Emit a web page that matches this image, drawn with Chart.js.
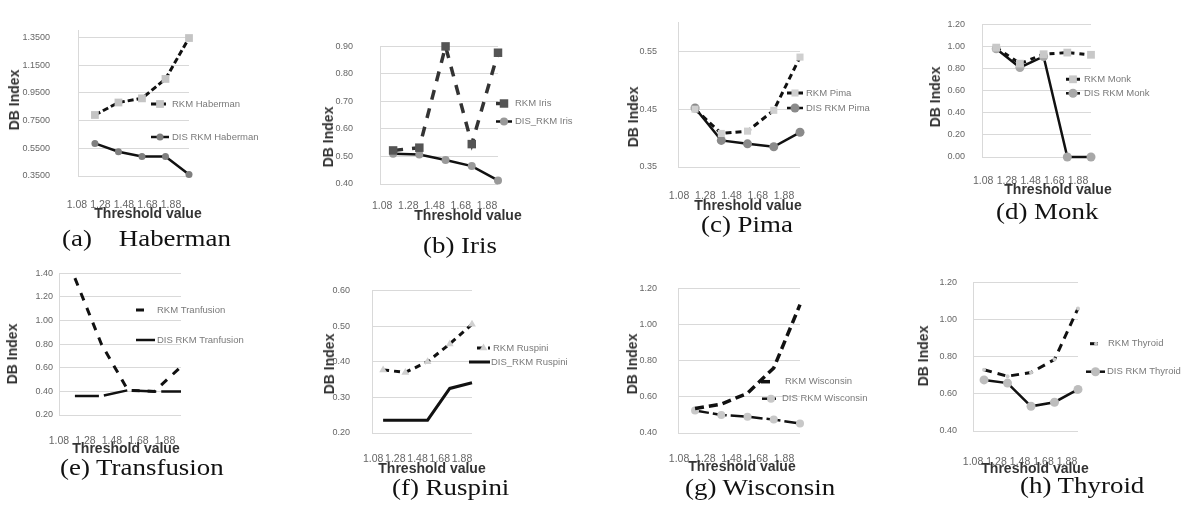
<!DOCTYPE html>
<html>
<head>
<meta charset="utf-8">
<script src="https://cdn.jsdelivr.net/npm/chart.js@4.4.1/dist/chart.umd.min.js"></script>
<style>
body{margin:0;background:#fff;width:1185px;height:508px;position:relative;overflow:hidden;font-family:"Liberation Sans",Arial,sans-serif}
canvas{position:absolute}
.cap{position:absolute;font-family:"Liberation Serif","Times New Roman",serif;font-size:23px;white-space:pre;line-height:23px;color:#111;transform:scaleX(1.17);transform-origin:0 50%}
.xt,.yt{position:absolute;font-weight:bold;font-size:14px;color:#333;white-space:nowrap;line-height:14px}
.xt{transform:translate(-50%,-50%)}
.yt{transform:translate(-50%,-50%) rotate(-90deg)}
</style>
</head>
<body>
<script>
// ---------- data ----------
const thresholds = ["1.08", "1.28", "1.48", "1.68", "1.88"];

const habermanRkm = [0.79, 0.88, 0.91, 1.05, 1.345];
const habermanDis = [0.585, 0.525, 0.49, 0.49, 0.36];
const habermanTicks = [0.35, 0.55, 0.75, 0.95, 1.15, 1.35];

const irisRkm = [0.522, 0.532, 0.90, 0.545, 0.877];
const irisDis = [0.51, 0.507, 0.487, 0.465, 0.413];
const irisTicks = [0.40, 0.50, 0.60, 0.70, 0.80, 0.90];

const pimaRkm = [0.45, 0.408, 0.412, 0.448, 0.54];
const pimaDis = [0.452, 0.396, 0.39, 0.385, 0.41];
const pimaTicks = [0.35, 0.45, 0.55];

const monkRkm = [0.99, 0.845, 0.93, 0.945, 0.925];
const monkDis = [0.98, 0.81, 0.91, 0.00, 0.00];
const monkTicks = [0.00, 0.20, 0.40, 0.60, 0.80, 1.00, 1.20];

const transfusionRkm = [1.36, 0.80, 0.41, 0.40, 0.61];
const transfusionDis = [0.36, 0.36, 0.41, 0.40, 0.40];
const transfusionTicks = [0.20, 0.40, 0.60, 0.80, 1.00, 1.20, 1.40];

const ruspiniRkm = [0.377, 0.37, 0.40, 0.45, 0.505];
const ruspiniDis = [0.236, 0.236, 0.236, 0.325, 0.341];
const ruspiniTicks = [0.20, 0.30, 0.40, 0.50, 0.60];

const wisconsinRkm = [0.535, 0.56, 0.62, 0.76, 1.11];
const wisconsinDis = [0.524, 0.50, 0.49, 0.474, 0.453];
const wisconsinTicks = [0.40, 0.60, 0.80, 1.00, 1.20];

const thyroidRkm = [0.73, 0.695, 0.715, 0.785, 1.06];
const thyroidDis = [0.675, 0.658, 0.533, 0.555, 0.624];
const thyroidTicks = [0.40, 0.60, 0.80, 1.00, 1.20];

// ---------- styles ----------
const FONT = '"Liberation Sans", Arial, sans-serif';

function dashed(dash, width, color, point) {
    return Object.assign({
        borderColor: color || "#111",
        borderWidth: width,
        borderDash: dash,
        pointRadius: 0,
        pointBorderWidth: 0
    }, point || {});
}

function marker(style, radius, fill) {
    return {
        pointStyle: style,
        pointRadius: radius,
        pointBackgroundColor: fill,
        pointBorderColor: fill,
        pointBorderWidth: 0
    };
}

// ---------- legend drawn inside the plot, like the Excel originals ----------
const sideLegend = {
    id: "sideLegend",
    afterDraw(chart, args, opts) {
        const ctx = chart.ctx;
        opts.items.forEach((it, i) => {
            const ds = chart.data.datasets[i];
            const y = it.y - opts.dy;
            const x0 = it.x0 - opts.dx;
            const x1 = it.x1 - opts.dx;
            ctx.save();
            ctx.strokeStyle = ds.borderColor;
            ctx.lineWidth = ds.borderWidth;
            ctx.setLineDash(ds.borderDash || []);
            ctx.beginPath();
            ctx.moveTo(x0, y);
            ctx.lineTo(x1, y);
            ctx.stroke();
            ctx.setLineDash([]);
            if (ds.pointRadius > 0) {
                ctx.fillStyle = ds.pointBackgroundColor;
                ctx.strokeStyle = ds.pointBorderColor;
                Chart.helpers.drawPoint(ctx, {
                    pointStyle: ds.pointStyle,
                    radius: ds.pointRadius,
                    borderWidth: 0,
                    rotation: 0
                }, (x0 + x1) / 2, y);
            }
            ctx.fillStyle = "#7a7a7a";
            ctx.font = "9.5px " + FONT;
            ctx.textBaseline = "middle";
            ctx.textAlign = "left";
            ctx.fillText(ds.label, it.tx - opts.dx, y);
            ctx.restore();
        });
    }
};

function addText(cls, text, x, y) {
    const d = document.createElement("div");
    d.className = cls;
    d.textContent = text;
    d.style.left = x + "px";
    d.style.top = y + "px";
    document.body.appendChild(d);
}

function makePanel(p) {
    const yAxisW = 64;
    const padTop = 10;
    const xAxisH = 50;
    const left = p.plotLeft - yAxisW;
    const top = p.top - padTop;
    const width = p.canvasRight - left;
    const height = p.bottom + xAxisH - top;

    const canvas = document.createElement("canvas");
    canvas.width = width;
    canvas.height = height;
    canvas.style.left = left + "px";
    canvas.style.top = top + "px";
    document.body.appendChild(canvas);

    new Chart(canvas, {
        type: "line",
        data: {
            datasets: p.series.map(s => Object.assign({}, s.style, {
                label: s.label,
                data: s.values.map((v, i) => ({ x: i, y: v })),
                fill: false,
                tension: 0,
                clip: false
            }))
        },
        options: {
            responsive: false,
            animation: false,
            devicePixelRatio: 1,
            layout: { padding: { top: padTop, right: p.canvasRight - p.plotRight, left: 0, bottom: 0 } },
            scales: {
                x: {
                    type: "linear",
                    min: p.xMin,
                    max: 4,
                    afterFit: s => { s.height = xAxisH; },
                    afterBuildTicks: s => { s.ticks = thresholds.map((t, i) => ({ value: i })); },
                    grid: { display: false },
                    border: { display: false },
                    ticks: {
                        autoSkip: false,
                        maxRotation: 0,
                        minRotation: 0,
                        padding: p.xLabelY - p.bottom - 10,
                        labelOffset: p.labelShift,
                        color: "#666",
                        font: { family: FONT, size: 10.5 },
                        callback: v => thresholds[v]
                    }
                },
                y: {
                    min: p.yMin,
                    max: p.yMax,
                    afterFit: s => { s.width = yAxisW; },
                    afterBuildTicks: s => { s.ticks = p.ticks.map(v => ({ value: v })); },
                    grid: { color: "#d9d9d9", drawTicks: false },
                    border: { color: "#d9d9d9" },
                    ticks: {
                        padding: p.plotLeft - p.labelRight,
                        color: "#666",
                        font: { family: FONT, size: 9 },
                        callback: v => v.toFixed(p.decimals)
                    }
                }
            },
            plugins: {
                legend: { display: false },
                tooltip: { enabled: false },
                sideLegend: { items: p.legend, dx: left, dy: top }
            }
        },
        plugins: [sideLegend]
    });

    addText("xt", "Threshold value", p.xTitle[0], p.xTitle[1]);
    addText("yt", "DB Index", p.yTitle[0], p.yTitle[1]);
    addText("cap", p.caption, p.capPos[0], p.capPos[1] - 11.5);
}

// ---------- panels ----------
makePanel({
    plotLeft: 78, plotRight: 189, top: 7, bottom: 176, canvasRight: 300,
    yMin: 0.35, yMax: 1.40, ticks: habermanTicks, decimals: 4,
    xMin: -0.72, labelRight: 50, xLabelY: 201, labelShift: -18,
    series: [
        { label: "RKM Haberman", values: habermanRkm, style: dashed([6, 3], 3, "#111", marker("rect", 5.5, "#c4c4c4")) },
        { label: "DIS RKM Haberman", values: habermanDis, style: dashed([], 2.5, "#111", marker("circle", 3.5, "#7f7f7f")) }
    ],
    legend: [ { x0: 151, x1: 169, tx: 172, y: 104 }, { x0: 151, x1: 169, tx: 172, y: 137 } ],
    xTitle: [148, 213], yTitle: [14, 100],
    caption: "(a)    Haberman", capPos: [62, 238]
});

makePanel({
    plotLeft: 380, plotRight: 498, top: 23.5, bottom: 184, canvasRight: 600,
    yMin: 0.40, yMax: 0.90, ticks: irisTicks, decimals: 2,
    xMin: -0.5, labelRight: 353, xLabelY: 202, labelShift: -11,
    series: [
        { label: "RKM Iris", values: irisRkm, style: dashed([10, 9], 3.5, "#333", marker("rect", 6, "#555")) },
        { label: "DIS_RKM Iris", values: irisDis, style: dashed([], 2.5, "#111", marker("circle", 4, "#999")) }
    ],
    legend: [ { x0: 496, x1: 512, tx: 515, y: 103 }, { x0: 496, x1: 512, tx: 515, y: 121 } ],
    xTitle: [468, 215], yTitle: [328, 137],
    caption: "(b) Iris", capPos: [423, 245]
});

makePanel({
    plotLeft: 678, plotRight: 800, top: 6, bottom: 167.7, canvasRight: 900,
    yMin: 0.35, yMax: 0.60, ticks: pimaTicks, decimals: 2,
    xMin: -0.65, labelRight: 657, xLabelY: 193, labelShift: -16,
    series: [
        { label: "RKM Pima", values: pimaRkm, style: dashed([6, 4], 3, "#111", marker("rect", 5, "#cfcfcf")) },
        { label: "DIS RKM Pima", values: pimaDis, style: dashed([], 2.5, "#111", marker("circle", 4.5, "#8a8a8a")) }
    ],
    legend: [ { x0: 787, x1: 803, tx: 806, y: 93 }, { x0: 787, x1: 803, tx: 806, y: 108 } ],
    xTitle: [748, 205], yTitle: [633, 117],
    caption: "(c) Pima", capPos: [701, 224]
});

makePanel({
    plotLeft: 982, plotRight: 1091, top: 11.7, bottom: 156.7, canvasRight: 1185,
    yMin: 0, yMax: 1.2, ticks: monkTicks, decimals: 2,
    xMin: -0.6, labelRight: 965, xLabelY: 177, labelShift: -13,
    series: [
        { label: "RKM Monk", values: monkRkm, style: dashed([5, 5], 3, "#111", marker("rect", 5.5, "#c8c8c8")) },
        { label: "DIS RKM Monk", values: monkDis, style: dashed([], 2.5, "#111", marker("circle", 4.5, "#a8a8a8")) }
    ],
    legend: [ { x0: 1066, x1: 1080, tx: 1084, y: 79 }, { x0: 1066, x1: 1080, tx: 1084, y: 93 } ],
    xTitle: [1058, 189], yTitle: [935, 97],
    caption: "(d) Monk", capPos: [996, 211]
});

makePanel({
    plotLeft: 59, plotRight: 181, top: 272, bottom: 415.3, canvasRight: 300,
    yMin: 0.2, yMax: 1.4, ticks: transfusionTicks, decimals: 2,
    xMin: -0.6, labelRight: 53, xLabelY: 437, labelShift: -16,
    series: [
        { label: "RKM Tranfusion", values: transfusionRkm, style: dashed([8, 8], 3, "#111") },
        { label: "DIS RKM Tranfusion", values: transfusionDis, style: dashed([24, 5], 2.5, "#111") }
    ],
    legend: [ { x0: 136, x1: 150, tx: 157, y: 310 }, { x0: 136, x1: 155, tx: 157, y: 340 } ],
    xTitle: [126, 448], yTitle: [12, 354],
    caption: "(e) Transfusion", capPos: [60, 467]
});

makePanel({
    plotLeft: 372, plotRight: 472, top: 273, bottom: 433.7, canvasRight: 600,
    yMin: 0.2, yMax: 0.6, ticks: ruspiniTicks, decimals: 2,
    xMin: -0.5, labelRight: 350, xLabelY: 456, labelShift: -10,
    series: [
        { label: "RKM Ruspini", values: ruspiniRkm, style: dashed([6, 5], 3, "#111", marker("triangle", 4.5, "#d0d0d0")) },
        { label: "DIS_RKM Ruspini", values: ruspiniDis, style: dashed([], 3, "#111") }
    ],
    legend: [ { x0: 477, x1: 490, tx: 493, y: 348 }, { x0: 469, x1: 490, tx: 491, y: 362 } ],
    xTitle: [432, 468], yTitle: [329, 364],
    caption: "(f) Ruspini", capPos: [392, 487]
});

makePanel({
    plotLeft: 678, plotRight: 800, top: 272.3, bottom: 434, canvasRight: 900,
    yMin: 0.4, yMax: 1.2, ticks: wisconsinTicks, decimals: 2,
    xMin: -0.65, labelRight: 657, xLabelY: 456, labelShift: -16,
    series: [
        { label: "RKM Wisconsin", values: wisconsinRkm, style: dashed([9, 5], 3.5, "#111") },
        { label: "DIS RKM Wisconsin", values: wisconsinDis, style: dashed([14, 4], 2.5, "#111", marker("circle", 4, "#c8c8c8")) }
    ],
    legend: [ { x0: 761, x1: 775, tx: 785, y: 382 }, { x0: 762, x1: 780, tx: 782, y: 399 } ],
    xTitle: [742, 466], yTitle: [632, 364],
    caption: "(g) Wisconsin", capPos: [685, 487]
});

makePanel({
    plotLeft: 973, plotRight: 1078, top: 271.3, bottom: 431.7, canvasRight: 1185,
    yMin: 0.4, yMax: 1.2, ticks: thyroidTicks, decimals: 2,
    xMin: -0.47, labelRight: 957, xLabelY: 459, labelShift: -11,
    series: [
        { label: "RKM Thyroid", values: thyroidRkm, style: dashed([8, 6], 3, "#111", marker("circle", 2, "#cccccc")) },
        { label: "DIS RKM Thyroid", values: thyroidDis, style: dashed([], 2.5, "#111", marker("circle", 4.5, "#bdbdbd")) }
    ],
    legend: [ { x0: 1090, x1: 1102, tx: 1108, y: 344 }, { x0: 1086, x1: 1105, tx: 1107, y: 372 } ],
    xTitle: [1035, 468], yTitle: [923, 356],
    caption: "(h) Thyroid", capPos: [1020, 485]
});
</script>
</body>
</html>
